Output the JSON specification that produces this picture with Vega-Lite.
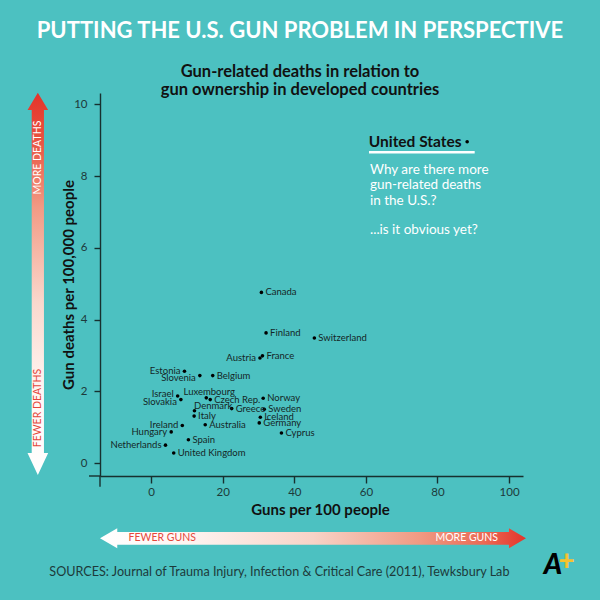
{
  "$schema": "https://vega.github.io/schema/vega-lite/v6.json",
  "width": 423,
  "height": 383,
  "autosize": {"type": "none"},
  "padding": {"left": 100, "top": 93, "right": 77, "bottom": 124},
  "background": "#4cc1c1",
  "config": {
    "view": {"stroke": null},
    "font": "Lato",
    "axis": {
      "grid": false,
      "domainColor": "#17302f",
      "tickColor": "#17302f",
      "domainWidth": 1.4,
      "tickWidth": 1.4,
      "labelColor": "#1d3a3a",
      "labelFont": "Lato",
      "labelFontSize": 11.5,
      "titleFont": "Lato",
      "titleFontSize": 15,
      "titleFontWeight": "bold",
      "titleColor": "#111111"
    }
  },
  "title": {
    "text": "PUTTING THE U.S. GUN PROBLEM IN PERSPECTIVE",
    "subtitle": ["Gun-related deaths in relation to", "gun ownership in developed countries"],
    "anchor": "middle",
    "frame": "group",
    "dx": -11.5,
    "offset": -7,
    "font": "Lato",
    "fontSize": 22,
    "fontWeight": "bold",
    "color": "#ffffff",
    "subtitleFont": "Lato",
    "subtitleFontSize": 16.5,
    "subtitleFontWeight": "bold",
    "subtitleColor": "#111111",
    "subtitleLineHeight": 18.5,
    "subtitlePadding": 21
  },
  "datasets": {
    "countries": [
      {"country": "Canada", "guns": 30.8, "deaths": 4.76},
      {"country": "Finland", "guns": 32.1, "deaths": 3.63},
      {"country": "Switzerland", "guns": 45.6, "deaths": 3.49},
      {"country": "Austria", "guns": 30.4, "deaths": 2.93},
      {"country": "France", "guns": 31.1, "deaths": 2.99},
      {"country": "Estonia", "guns": 9.3, "deaths": 2.56},
      {"country": "Slovenia", "guns": 13.6, "deaths": 2.44},
      {"country": "Belgium", "guns": 17.2, "deaths": 2.44},
      {"country": "Israel", "guns": 7.4, "deaths": 1.87},
      {"country": "Slovakia", "guns": 8.3, "deaths": 1.77},
      {"country": "Luxembourg", "guns": 15.4, "deaths": 1.82},
      {"country": "Czech Rep.", "guns": 16.5, "deaths": 1.77},
      {"country": "Norway", "guns": 31.3, "deaths": 1.81},
      {"country": "Denmark", "guns": 12.1, "deaths": 1.46},
      {"country": "Greece", "guns": 22.5, "deaths": 1.52},
      {"country": "Sweden", "guns": 31.6, "deaths": 1.5},
      {"country": "Italy", "guns": 12.0, "deaths": 1.31},
      {"country": "Iceland", "guns": 30.5, "deaths": 1.28},
      {"country": "Ireland", "guns": 8.7, "deaths": 1.05},
      {"country": "Australia", "guns": 15.1, "deaths": 1.07},
      {"country": "Germany", "guns": 30.2, "deaths": 1.12},
      {"country": "Hungary", "guns": 5.6, "deaths": 0.87},
      {"country": "Cyprus", "guns": 36.4, "deaths": 0.84},
      {"country": "Spain", "guns": 10.4, "deaths": 0.65},
      {"country": "Netherlands", "guns": 4.0, "deaths": 0.5},
      {"country": "United Kingdom", "guns": 6.3, "deaths": 0.28},
      {"country": "United States", "guns": 88.3, "deaths": 8.96}
    ],
    "one": [{}]
  },
  "layer": [
    {
      "data": {"name": "countries"},
      "mark": {"type": "circle", "color": "#000000", "opacity": 1, "size": 13},
      "encoding": {
        "x": {
          "field": "guns", "type": "quantitative",
          "scale": {"domain": [-14.3, 103.9], "nice": false, "zero": false},
          "axis": {"values": [0, 20, 40, 60, 80, 100], "tickSize": 7, "labelPadding": 3, "title": "Guns per 100 people", "titlePadding": 5, "titleX": 220}
        },
        "y": {
          "field": "deaths", "type": "quantitative",
          "scale": {"domain": [-0.36, 10.32], "nice": false, "zero": false},
          "axis": {"values": [0, 2, 4, 6, 8, 10], "tickSize": 6, "labelPadding": 7, "title": "Gun deaths per 100,000 people", "titlePadding": -3}
        }
      }
    },
    {
      "data": {"name": "one"},
      "mark": {"type": "rule", "color": "#17302f", "strokeWidth": 1.4},
      "encoding": {
        "x": {"datum": -17.37, "type": "quantitative"},
        "x2": {"datum": -14.3},
        "y": {"datum": -0.36, "type": "quantitative"}
      }
    },
    {
      "data": {"name": "one"},
      "mark": {"type": "rule", "color": "#17302f", "strokeWidth": 1.4},
      "encoding": {
        "x": {"datum": -14.3, "type": "quantitative"},
        "y": {"datum": -0.658, "type": "quantitative"},
        "y2": {"datum": -0.36}
      }
    },
    {
      "data": {"name": "one"},
      "mark": {"type": "rule", "color": "#ffffff", "strokeWidth": 2.5},
      "encoding": {
        "x": {"datum": 60.87, "type": "quantitative"},
        "x2": {"datum": 90.4},
        "y": {"datum": 8.666, "type": "quantitative"}
      }
    },
    {
      "data": {"name": "one"},
      "mark": {
        "type": "point",
        "shape": "M0,-1L0.054,-0.909L0.032,-0.909L0.032,0.885L0.054,0.885L0,1L-0.054,0.885L-0.032,0.885L-0.032,-0.909L-0.054,-0.909Z",
        "size": 146153,
        "filled": true,
        "opacity": 1,
        "strokeWidth": 0,
        "fill": {"gradient": "linear", "x1": 0, "y1": 0, "x2": 0, "y2": 1,
          "stops": [
            {"offset": 0, "color": "#e4342a"},
            {"offset": 0.12, "color": "#e9513f"},
            {"offset": 0.3, "color": "#f29a84"},
            {"offset": 0.55, "color": "#fad8cd"},
            {"offset": 0.78, "color": "#fff6f3"},
            {"offset": 1, "color": "#ffffff"}
          ]}
      },
      "encoding": {
        "x": {"datum": -31.67, "type": "quantitative"},
        "y": {"datum": 4.998, "type": "quantitative"}
      }
    },
    {
      "data": {"name": "one"},
      "mark": {
        "type": "point",
        "shape": "M-1,0L-0.919,-0.047L-0.919,-0.0298L0.92,-0.0298L0.92,-0.047L1,0L0.92,0.047L0.92,0.0298L-0.919,0.0298L-0.919,0.047Z",
        "size": 181476,
        "filled": true,
        "opacity": 1,
        "strokeWidth": 0,
        "fill": {"gradient": "linear", "x1": 0, "y1": 0, "x2": 1, "y2": 0,
          "stops": [
            {"offset": 0, "color": "#ffffff"},
            {"offset": 0.2, "color": "#fef5f2"},
            {"offset": 0.5, "color": "#f8d3c7"},
            {"offset": 0.75, "color": "#f09a83"},
            {"offset": 0.9, "color": "#eb6a55"},
            {"offset": 1, "color": "#e4342a"}
          ]}
      },
      "encoding": {
        "x": {"datum": 45.22, "type": "quantitative"},
        "y": {"datum": -2.098, "type": "quantitative"}
      }
    },
    {
      "data": {"name": "one"},
      "mark": {"type": "text", "text": "MORE DEATHS", "angle": 270, "color": "#ffffff", "fontSize": 10.5, "align": "center", "baseline": "middle"},
      "encoding": {"x": {"datum": -31.67, "type": "quantitative"}, "y": {"datum": 8.521, "type": "quantitative"}}
    },
    {
      "data": {"name": "one"},
      "mark": {"type": "text", "text": "FEWER DEATHS", "angle": 270, "color": "#e5473b", "fontSize": 10.5, "align": "center", "baseline": "middle"},
      "encoding": {"x": {"datum": -31.67, "type": "quantitative"}, "y": {"datum": 1.536, "type": "quantitative"}}
    },
    {
      "data": {"name": "one"},
      "mark": {"type": "text", "text": "FEWER GUNS", "color": "#e5473b", "fontSize": 10.5, "align": "center", "baseline": "middle"},
      "encoding": {"x": {"datum": 3.08, "type": "quantitative"}, "y": {"datum": -2.098, "type": "quantitative"}}
    },
    {
      "data": {"name": "one"},
      "mark": {"type": "text", "text": "MORE GUNS", "color": "#ffffff", "fontSize": 10.5, "align": "center", "baseline": "middle"},
      "encoding": {"x": {"datum": 88.17, "type": "quantitative"}, "y": {"datum": -2.098, "type": "quantitative"}}
    },
    {
      "data": {"name": "one"},
      "mark": {"type": "text", "text": "SOURCES: Journal of Trauma Injury, Infection & Critical Care (2011), Tewksbury Lab", "color": "#1d3a3a", "fontSize": 12.6, "align": "center", "baseline": "middle"},
      "encoding": {"x": {"datum": 35.83, "type": "quantitative"}, "y": {"datum": -3.046, "type": "quantitative"}}
    },
    {
      "data": {"name": "one"},
      "mark": {"type": "text", "text": "A", "color": "#000000", "fontSize": 28, "fontWeight": 900, "fontStyle": "italic", "align": "center", "baseline": "middle"},
      "encoding": {"x": {"datum": 112.28, "type": "quantitative"}, "y": {"datum": -2.87, "type": "quantitative"}}
    },
    {
      "data": {"name": "one"},
      "mark": {"type": "text", "text": "+", "color": "#f5c230", "fontSize": 28, "fontWeight": 900, "align": "center", "baseline": "middle"},
      "encoding": {"x": {"datum": 116.06, "type": "quantitative"}, "y": {"datum": -2.759, "type": "quantitative"}}
    },
    {
      "data": {"name": "one"},
      "mark": {"type": "text", "text": ["Why are there more", "gun-related deaths", "in the U.S.?"], "color": "#ffffff", "fontSize": 13.5, "lineHeight": 15.3, "align": "left", "baseline": "middle"},
      "encoding": {"x": {"datum": 61.15, "type": "quantitative"}, "y": {"datum": 8.173, "type": "quantitative"}}
    },
    {
      "data": {"name": "one"},
      "mark": {"type": "text", "text": "...is it obvious yet?", "color": "#ffffff", "fontSize": 13.5, "align": "left", "baseline": "middle"},
      "encoding": {"x": {"datum": 61.15, "type": "quantitative"}, "y": {"datum": 6.499, "type": "quantitative"}}
    },
    {
      "data": {"name": "countries"},
      "transform": [{"filter": {"field": "country", "oneOf": ["Canada", "Finland", "Switzerland", "France", "Belgium", "Czech Rep.", "Norway", "Greece", "Sweden", "Italy", "Iceland", "Australia", "Germany", "Cyprus", "Spain", "United Kingdom"]}}],
      "mark": {"type": "text", "align": "left", "baseline": "middle", "dx": 4, "fontSize": 9.5, "color": "#142626"},
      "encoding": {"x": {"field": "guns", "type": "quantitative"}, "y": {"field": "deaths", "type": "quantitative"}, "text": {"field": "country"}}
    },
    {
      "data": {"name": "countries"},
      "transform": [{"filter": {"field": "country", "oneOf": ["Austria", "Estonia", "Ireland", "Hungary", "Netherlands"]}}],
      "mark": {"type": "text", "align": "right", "baseline": "middle", "dx": -4, "fontSize": 9.5, "color": "#142626"},
      "encoding": {"x": {"field": "guns", "type": "quantitative"}, "y": {"field": "deaths", "type": "quantitative"}, "text": {"field": "country"}}
    },
    {
      "data": {"name": "countries"},
      "transform": [{"filter": {"field": "country", "oneOf": ["Slovenia", "Slovakia"]}}],
      "mark": {"type": "text", "align": "right", "baseline": "middle", "dx": -4, "dy": 2.5, "fontSize": 9.5, "color": "#142626"},
      "encoding": {"x": {"field": "guns", "type": "quantitative"}, "y": {"field": "deaths", "type": "quantitative"}, "text": {"field": "country"}}
    },
    {
      "data": {"name": "countries"},
      "transform": [{"filter": {"field": "country", "oneOf": ["Israel"]}}],
      "mark": {"type": "text", "align": "right", "baseline": "middle", "dx": -4, "dy": -2, "fontSize": 9.5, "color": "#142626"},
      "encoding": {"x": {"field": "guns", "type": "quantitative"}, "y": {"field": "deaths", "type": "quantitative"}, "text": {"field": "country"}}
    },
    {
      "data": {"name": "countries"},
      "transform": [{"filter": {"field": "country", "oneOf": ["Luxembourg"]}}],
      "mark": {"type": "text", "align": "center", "baseline": "middle", "dx": 3, "dy": -5.5, "fontSize": 9.5, "color": "#142626"},
      "encoding": {"x": {"field": "guns", "type": "quantitative"}, "y": {"field": "deaths", "type": "quantitative"}, "text": {"field": "country"}}
    },
    {
      "data": {"name": "countries"},
      "transform": [{"filter": {"field": "country", "oneOf": ["Denmark"]}}],
      "mark": {"type": "text", "align": "left", "baseline": "middle", "dx": -0.5, "dy": -5, "fontSize": 9.5, "color": "#142626"},
      "encoding": {"x": {"field": "guns", "type": "quantitative"}, "y": {"field": "deaths", "type": "quantitative"}, "text": {"field": "country"}}
    },
    {
      "data": {"name": "countries"},
      "transform": [{"filter": {"field": "country", "equal": "United States"}}],
      "mark": {"type": "text", "align": "right", "baseline": "middle", "dx": -5.5, "fontSize": 15.5, "fontWeight": "bold", "color": "#111111"},
      "encoding": {"x": {"field": "guns", "type": "quantitative"}, "y": {"field": "deaths", "type": "quantitative"}, "text": {"field": "country"}}
    }
  ]
}
